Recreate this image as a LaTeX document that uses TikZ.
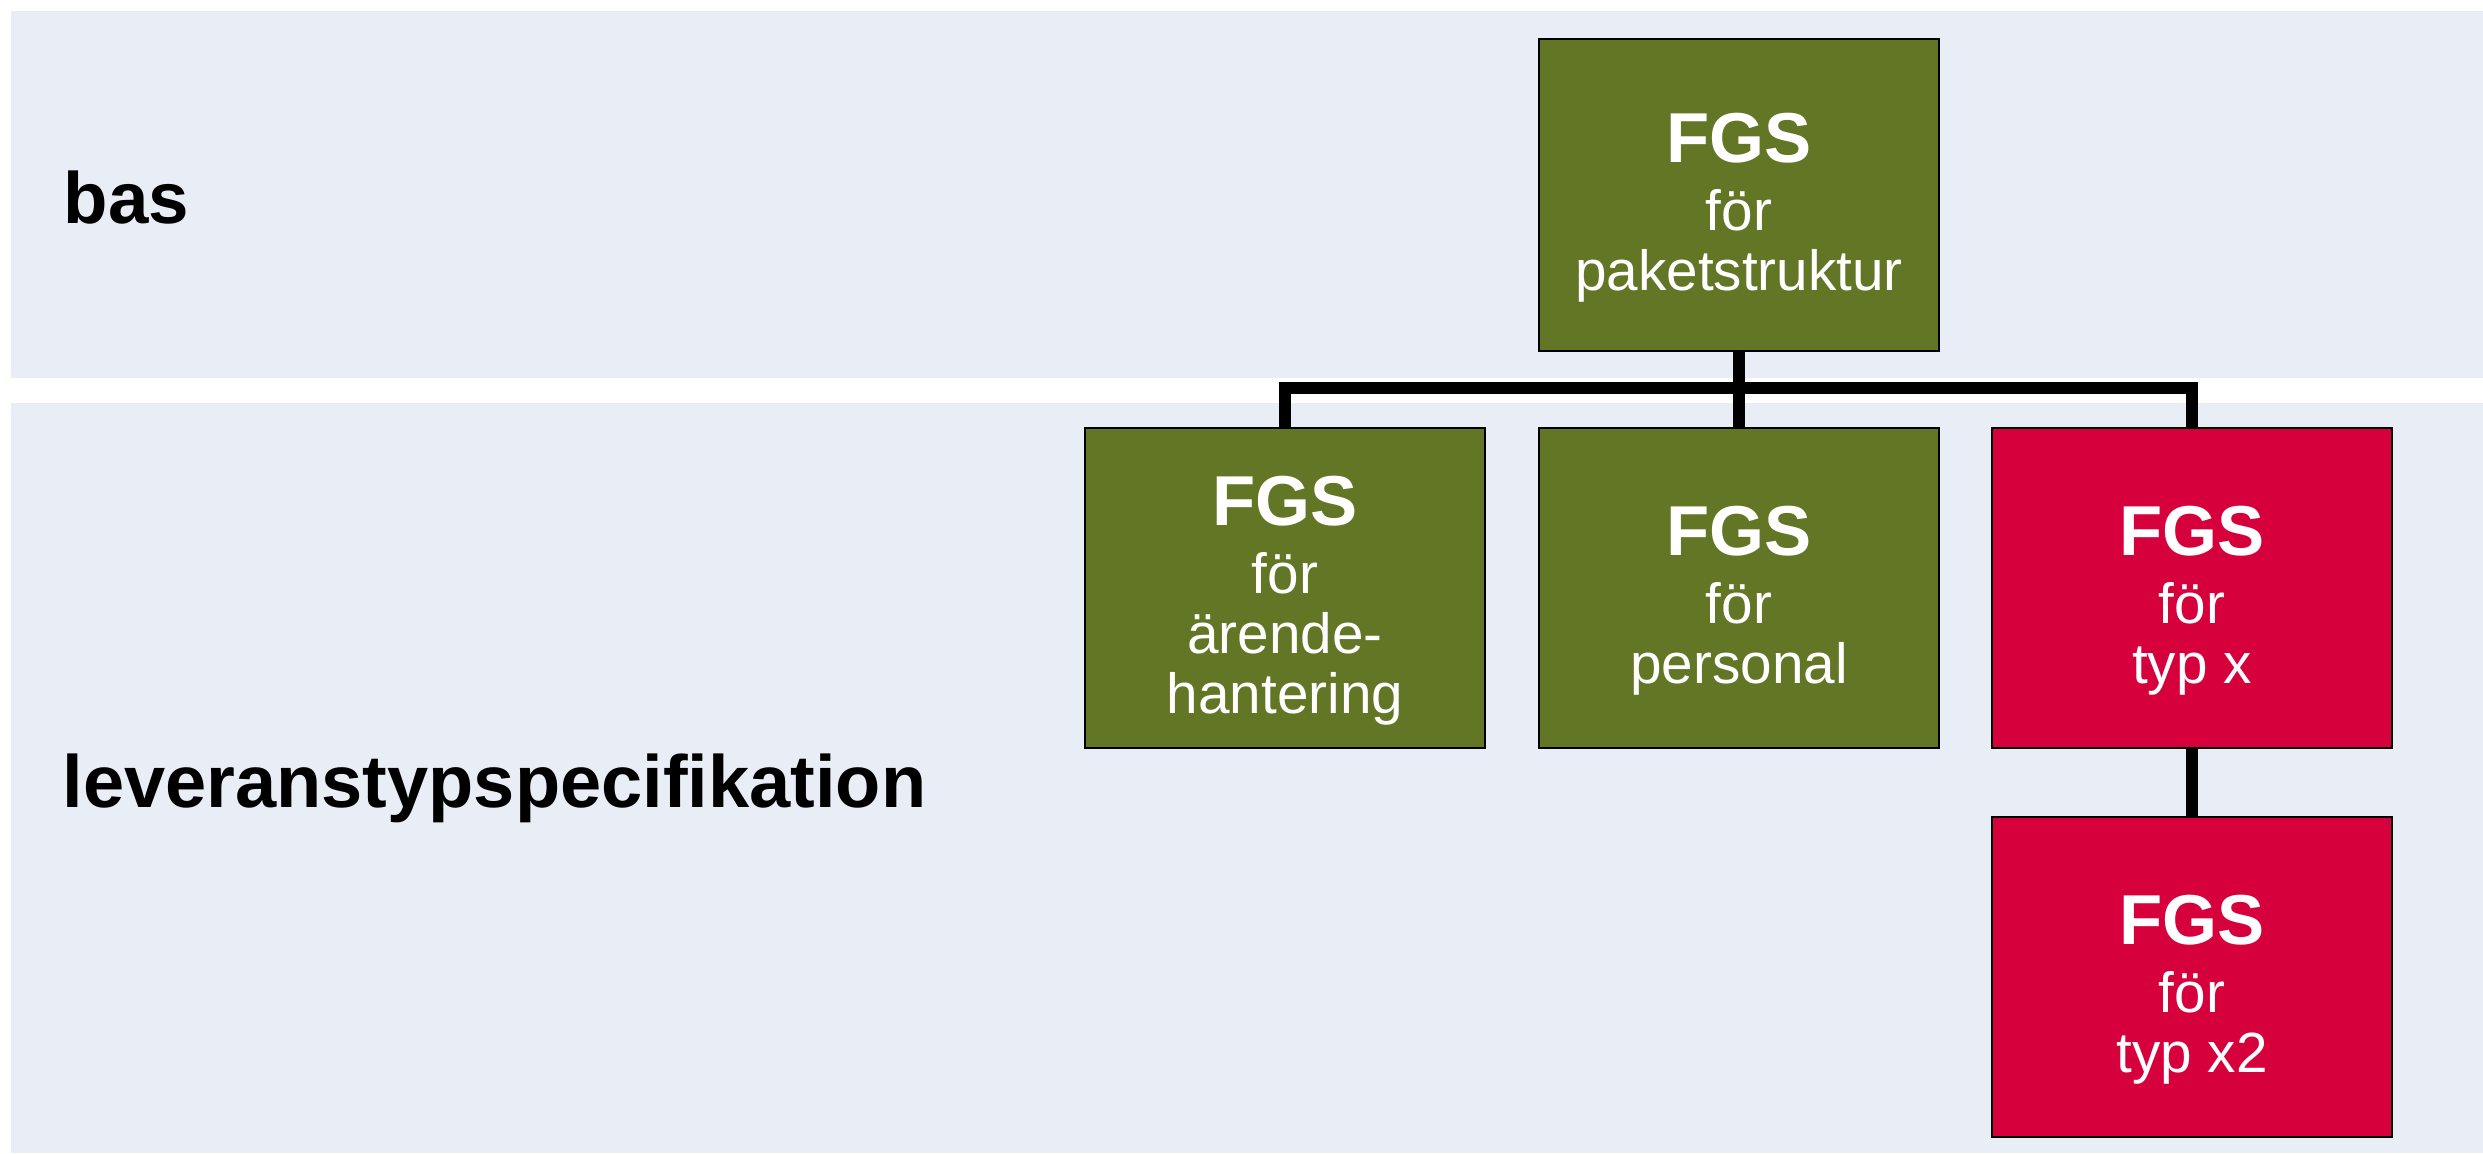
\documentclass[tikz,border=0pt]{standalone}
\usepackage{fontspec}
\setmainfont{Liberation Sans}
\definecolor{bandcol}{RGB}{233,237,246}
\definecolor{boxgreen}{RGB}{98,118,38}
\definecolor{boxred}{RGB}{214,0,60}
\tikzset{
  band/.style={fill=bandcol, draw=none},
  fgsbox/.style={draw=black, line width=0.8pt, minimum width=120pt, minimum height=96pt, inner sep=0pt},
  greenbox/.style={fgsbox, fill=boxgreen},
  redbox/.style={fgsbox, fill=boxred},
  boxtext/.style={text=white, align=center, inner sep=0pt, font=\fontsize{17}{18}\selectfont},
  sidelabel/.style={font=\bfseries\fontsize{21.8}{24}\selectfont, inner sep=0pt, anchor=base west},
  conn/.style={line width=3.6pt, line join=miter, draw=black}
}
\newcommand{\fgs}{{\bfseries\fontsize{21.2}{21.2}\selectfont FGS}\\[2.4pt]}
\begin{document}
\begin{tikzpicture}[x=0.3pt, y=-0.3pt]
\useasboundingbox (0,0) rectangle (2483,1153);
\fill[white] (0,0) rectangle (2483,1153);
\fill[band] (11,11) rectangle (2483,378);
\fill[band] (11,403) rectangle (2483,1153);

\node[sidelabel] (bas) at (63,224) {bas};
\node[sidelabel, font=\bfseries\fontsize{22.2}{24}\selectfont] (lev) at (62,807) {leveranstypspecifikation};

\node[greenbox, minimum height=93.6pt] (top) at (1739,195) {};
\node[greenbox] (b1) at (1285,588) {};
\node[greenbox] (b2) at (1739,588) {};
\node[redbox] (b3) at (2192,588) {};
\node[redbox] (b4) at (2192,977) {};

\coordinate (bus) at (1739,388);

\draw[conn] (top.south) -- (bus);
\draw[conn] (b1.north) -- (b1.north |- bus) -- (b3.north |- bus) -- (b3.north);
\draw[conn] (b2.north) -- (b2.north |- bus);
\draw[conn] (b3.south) -- (b4.north);

\node[boxtext] (topt) at ([yshift=-13*0.3pt]top.center) {\fgs för\\paketstruktur};
\node[boxtext] (b1t) at ([yshift=-13*0.3pt]b1.center) {\fgs för\\ärende-\\hantering};
\node[boxtext] (b2t) at ([yshift=-13*0.3pt]b2.center) {\fgs för\\personal};
\node[boxtext] (b3t) at ([yshift=-13*0.3pt]b3.center) {\fgs för\\typ x};
\node[boxtext] (b4t) at ([yshift=-13*0.3pt]b4.center) {\fgs för\\typ x2};
\end{tikzpicture}
\end{document}
